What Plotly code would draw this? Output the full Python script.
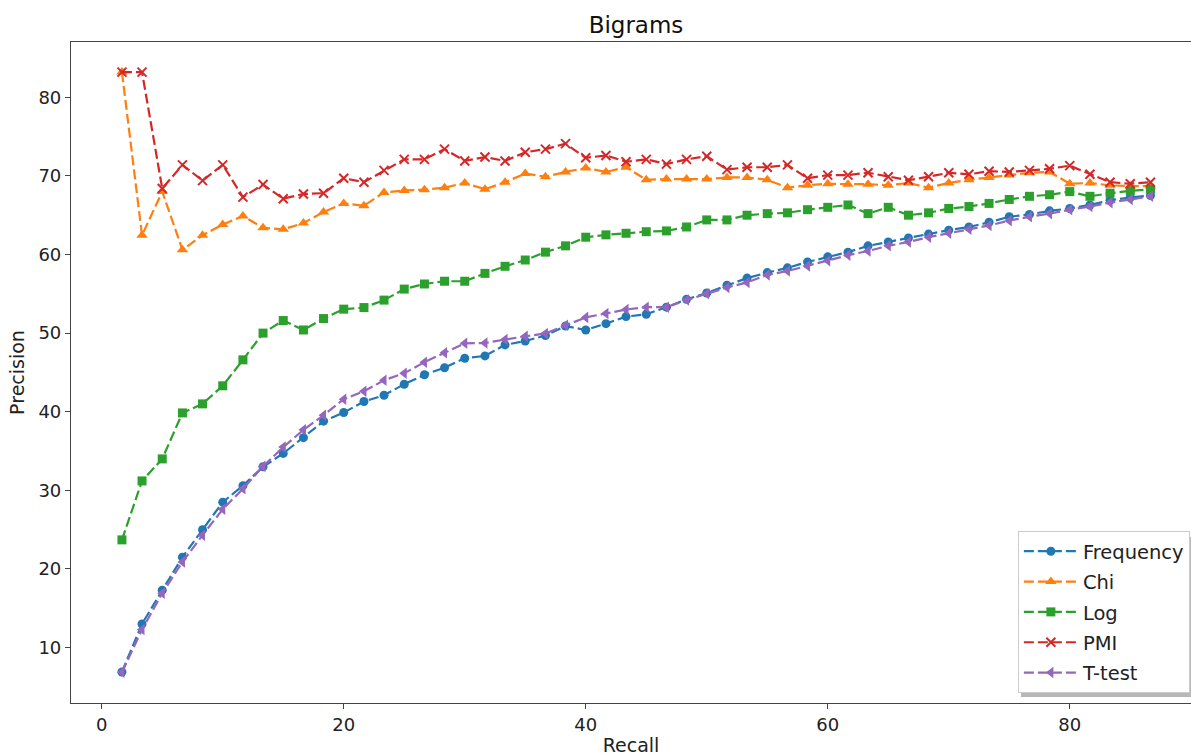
import plotly.graph_objects as go

recall = [1.67, 3.33, 5.0, 6.67, 8.33, 10.0, 11.67, 13.33, 15.0, 16.67,
          18.33, 20.0, 21.67, 23.33, 25.0, 26.67, 28.33, 30.0, 31.67, 33.33,
          35.0, 36.67, 38.33, 40.0, 41.67, 43.33, 45.0, 46.67, 48.33, 50.0,
          51.67, 53.33, 55.0, 56.67, 58.33, 60.0, 61.67, 63.33, 65.0, 66.67,
          68.33, 70.0, 71.67, 73.33, 75.0, 76.67, 78.33, 80.0, 81.67, 83.33,
          85.0, 86.67]

frequency = [6.9, 13.0, 17.3, 21.5, 25.0, 28.5, 30.6, 33.0, 34.7, 36.7,
             38.8, 39.9, 41.3, 42.1, 43.5, 44.7, 45.6, 46.8, 47.1, 48.5,
             49.0, 49.7, 50.9, 50.4, 51.2, 52.1, 52.4, 53.3, 54.3, 55.1,
             56.1, 57.0, 57.7, 58.3, 59.05, 59.7, 60.3, 61.1, 61.6, 62.1,
             62.6, 63.1, 63.5, 64.1, 64.8, 65.1, 65.55, 65.85, 66.3, 66.9,
             67.25, 67.5]

chi = [83.2, 62.45, 68.0, 60.6, 62.45, 63.8, 64.9, 63.4, 63.2, 64.0,
       65.4, 66.5, 66.2, 67.9, 68.15, 68.25, 68.5, 69.1, 68.3, 69.2,
       70.3, 69.9, 70.5, 71.0, 70.5, 71.1, 69.5, 69.6, 69.6, 69.6,
       69.8, 69.8, 69.5, 68.5, 68.8, 69.0, 68.95, 68.95, 68.8, 69.1,
       68.5, 69.1, 69.5, 69.8, 70.1, 70.4, 70.5, 69.0, 69.1, 68.8,
       68.7, 68.7]

log = [23.7, 31.2, 34.0, 39.85, 41.0, 43.3, 46.6, 50.0, 51.6, 50.4,
       51.85, 53.05, 53.25, 54.2, 55.6, 56.25, 56.6, 56.6, 57.6, 58.5,
       59.3, 60.3, 61.1, 62.2, 62.5, 62.7, 62.9, 63.0, 63.5, 64.4,
       64.4, 65.0, 65.2, 65.3, 65.7, 66.0, 66.3, 65.2, 66.0, 65.0,
       65.3, 65.85, 66.1, 66.5, 67.0, 67.4, 67.6, 68.0, 67.4, 67.8,
       68.1, 68.3]

pmi = [83.2, 83.2, 68.4, 71.4, 69.4, 71.4, 67.3, 68.9, 67.1, 67.7,
       67.8, 69.7, 69.2, 70.7, 72.1, 72.1, 73.4, 71.9, 72.4, 71.9,
       73.0, 73.4, 74.1, 72.3, 72.6, 71.8, 72.1, 71.5, 72.1, 72.5,
       70.8, 71.1, 71.1, 71.4, 69.7, 70.1, 70.1, 70.4, 69.9, 69.45,
       69.9, 70.4, 70.2, 70.6, 70.5, 70.7, 70.9, 71.3, 70.2, 69.2,
       69.0, 69.2]

ttest = [6.85, 12.3, 16.9, 20.9, 24.3, 27.6, 30.2, 33.05, 35.5, 37.7,
         39.55, 41.6, 42.6, 44.0, 44.9, 46.3, 47.5, 48.7, 48.75, 49.2,
         49.6, 49.95, 51.0, 52.0, 52.5, 53.0, 53.3, 53.3, 54.2, 55.0,
         55.8, 56.45, 57.4, 57.9, 58.55, 59.2, 59.9, 60.45, 61.1, 61.6,
         62.2, 62.7, 63.2, 63.7, 64.3, 64.8, 65.2, 65.7, 66.1, 66.6,
         67.0, 67.4]

series = [
    ("Frequency", frequency, "#1f77b4", "circle", 9),
    ("Chi", chi, "#ff7f0e", "triangle-up", 10),
    ("Log", log, "#2ca02c", "square", 9),
    ("PMI", pmi, "#d62728", "x-thin", 9),
    ("T-test", ttest, "#9467bd", "triangle-left", 10),
]

FONT = "DejaVu Sans"
fig = go.Figure()
for name, vals, color, sym, size in series:
    marker = dict(symbol=sym, size=size, color=color)
    if sym == "x-thin":
        marker["line"] = dict(color=color, width=2)
    else:
        marker["line"] = dict(width=0)
    fig.add_trace(go.Scatter(
        x=recall, y=vals, name=name, mode="lines+markers",
        line=dict(color=color, width=2.2, dash="10px,4px"),
        marker=marker, legendgroup=name,
    ))

# legend shadow (drawn beneath the legend box)
fig.add_shape(type="rect", xref="paper", yref="paper",
              x0=(1021 - 71) / 1120, x1=1.01,
              y0=(703 - 697) / 661, y1=(703 - 537) / 661,
              fillcolor="rgba(0,0,0,0.28)", line=dict(width=0), layer="above")

fig.update_layout(
    width=1191, height=756,
    margin=dict(l=71, r=0, t=42, b=53),
    paper_bgcolor="white", plot_bgcolor="white",
    font=dict(family=FONT, size=18, color="#222"),
    title=dict(text="Bigrams", x=636/1191, xanchor="center", xref="container",
               y=1 - 25/756, yanchor="middle", yref="container",
               font=dict(family=FONT, size=23, color="#111")),
    showlegend=True,
    legend=dict(x=0.999, xanchor="right", y=0.0151, yanchor="bottom",
                bgcolor="white", bordercolor="#cccccc", borderwidth=1,
                font=dict(family=FONT, size=19.5, color="#222"),
                traceorder="grouped", tracegroupgap=2, itemwidth=54),
)
fig.update_xaxes(
    range=[-2.54, 90.02], tickvals=[0, 20, 40, 60, 80],
    showgrid=False, zeroline=False, showline=True, linecolor="#444",
    linewidth=1.2, mirror=True, ticks="outside", ticklen=5, tickcolor="#444",
    tickfont=dict(size=18, color="#222"),
    title=dict(text="Recall", font=dict(size=19, color="#222"), standoff=8),
)
fig.update_yaxes(
    range=[2.95, 87.03], tickvals=[10, 20, 30, 40, 50, 60, 70, 80],
    showgrid=False, zeroline=False, showline=True, linecolor="#444",
    linewidth=1.2, mirror=False, ticks="outside", ticklen=5, tickcolor="#444",
    tickfont=dict(size=18, color="#222"),
    title=dict(text="Precision", font=dict(size=19, color="#222"), standoff=8),
)

fig.write_html("out.html", config={"displayModeBar": False},
               post_script="document.body.style.margin='0';document.body.style.overflow='hidden';")
